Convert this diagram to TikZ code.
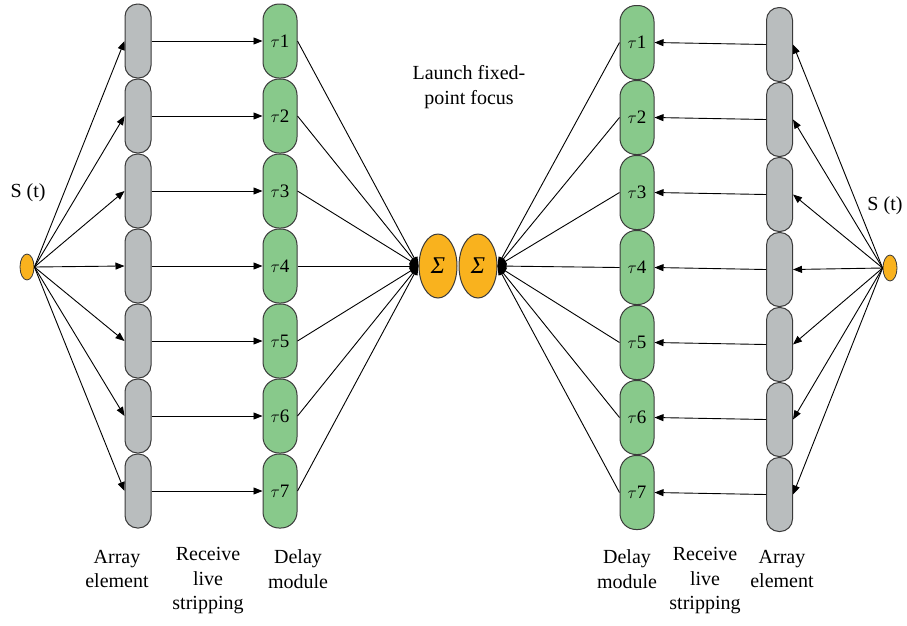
\documentclass[tikz,border=0pt]{standalone}
\usepackage{fontspec}
\setmainfont{Liberation Serif}
\usetikzlibrary{arrows.meta,shapes.geometric}
\definecolor{gry}{HTML}{B9BDBE}
\definecolor{grn}{HTML}{88C98B}
\definecolor{org}{HTML}{F9B21E}
\definecolor{edgec}{HTML}{3A3A3A}
\begin{document}
\begin{tikzpicture}[x=1pt,y=-1pt,
  gbox/.style={draw=edgec, line width=1pt, fill=gry, rounded corners=12.5pt, minimum width=26pt, minimum height=74pt, inner sep=0pt},
  dbox/.style={draw=edgec, line width=1pt, fill=grn, rounded corners=16pt, minimum width=34pt, minimum height=74pt, inner sep=0pt, font=\fontsize{19}{20}\selectfont},
  src/.style={ellipse, draw=edgec, line width=0.8pt, fill=org, minimum width=14pt, minimum height=26pt, inner sep=0pt},
  sig/.style={ellipse, draw=edgec, line width=1pt, fill=org, minimum width=38pt, minimum height=64pt, inner sep=0pt, font=\fontsize{24}{24}\selectfont},
  arr/.style={-{Triangle[length=9pt,width=7pt]}, line width=0.9pt},
  lbl/.style={align=center, font=\fontsize{20}{24.5}\selectfont}
]
\useasboundingbox (0,0) rectangle (907,625);
\fill[white] (0,0) rectangle (907,625);

% source nodes
\node[src] (srcL) at (27,267) {};
\node[src] (srcR) at (890,268) {};
\node[sig] (sigL) at (438,266) {\textit{Σ}};
\node[sig] (sigR) at (478,266) {\textit{Σ}};

\foreach \k in {1,...,7} {
  \pgfmathsetmacro{\yl}{41+75*(\k-1)}
  \pgfmathsetmacro{\yd}{42.5+75*(\k-1)}
  \pgfmathsetmacro{\yg}{44.5+75*(\k-1)}
  \node[gbox] (gL\k) at (138,\yl) {};
  \node[dbox] (dL\k) at (280,\yl) {$\tau$\k};
  \node[dbox] (dR\k) at (637,\yd) {$\tau$\k};
  \node[gbox] (gR\k) at (779.5,\yg) {};
}

\foreach \k in {1,...,7} {
  \draw[arr] (srcL.east) -- (gL\k.west);
  \draw[arr] (gL\k.east) -- (dL\k.west);
  \draw[arr] (dL\k.east) -- (sigL.west);
  \draw[arr] (dR\k.west) -- (sigR.east);
  \draw[arr] (gR\k.west) -- (dR\k.east);
  \draw[arr] (srcR.west) -- (gR\k.east);
}

% labels
\node[lbl] (sL) at (28,193) {S (t)};
\node[lbl, anchor=east] (sR) at (906,206) {S (t)};
\node[lbl] (launch) at (469,87) {Launch fixed-\\point focus};
\node[lbl] (l1) at (117,569) {Array\\element};
\node[lbl] (l2) at (208,581) {Receive\\live\\stripping};
\node[lbl] (l3) at (298,569) {Delay\\module};
\node[lbl] (r1) at (627,569) {Delay\\module};
\node[lbl] (r2) at (705,581) {Receive\\live\\stripping};
\node[lbl] (r3) at (782,569) {Array\\element};
\end{tikzpicture}
\end{document}
